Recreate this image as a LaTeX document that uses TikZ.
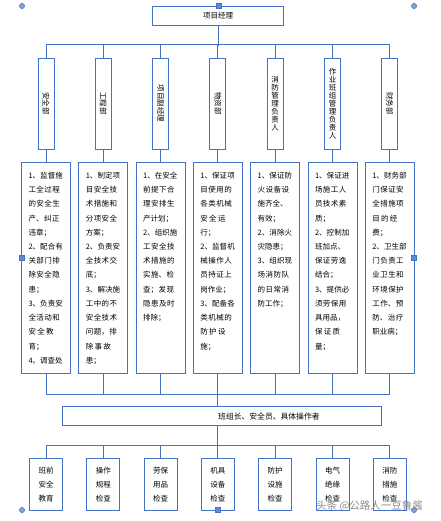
\documentclass[tikz,border=0pt]{standalone}
\usepackage{fontspec}
\setmainfont{Noto Sans CJK SC}
\XeTeXlinebreaklocale "zh"
\XeTeXlinebreakskip=0pt plus 2pt
\tolerance=10000
\hbadness=10000
\definecolor{lineblue}{RGB}{68,114,196}
\definecolor{gripblue}{RGB}{91,140,214}
\tikzset{
  link/.style={draw=lineblue, line width=0.9pt},
  headbox/.style={draw=lineblue, line width=0.9pt, minimum width=130.6pt, minimum height=19.3pt, inner sep=0pt, font=\fontsize{7.5}{9}\selectfont},
  deptbox/.style={draw=lineblue, line width=0.9pt, minimum width=16pt, minimum height=91pt, inner sep=0pt, font=\fontsize{7.5}{8}\selectfont},
  dutybox/.style={draw=lineblue, line width=0.9pt, anchor=north, text width=35pt, inner xsep=7pt, inner ysep=0pt, text height=15.4pt, text depth=195.1pt, font=\fontsize{7.5}{14.23}\selectfont},
  crewbox/.style={draw=lineblue, line width=0.9pt, minimum width=319.4pt, minimum height=18.3pt, inner sep=0pt},
  crewtext/.style={anchor=west, inner sep=0pt, font=\fontsize{7.8}{9}\selectfont},
  checkbox/.style={draw=lineblue, line width=0.9pt, minimum width=33pt, minimum height=51.7pt, inner sep=0pt, align=center, font=\fontsize{7.5}{14}\selectfont},
  grip/.style={fill=gripblue, draw=lineblue, line width=0.5pt},
  knob/.style={fill=gripblue!80, draw=lineblue, line width=0.5pt},
  wmtext/.style={anchor=west, inner sep=0pt, text=black!45, font=\fontsize{10.5}{12}\selectfont},
}

\begin{document}
\begin{tikzpicture}[x=1pt,y=-1pt]
\useasboundingbox (0,0) rectangle (440,521);

% head
\node[headbox] (pm) at (218,15.7) {项目经理};

% departments
\node[deptbox] (dA) at (46,103.7) {\rotatebox{-90}{安全部}};
\node[deptbox] (dB) at (103.3,103.7) {\rotatebox{-90}{工程部}};
\node[deptbox] (dC) at (160.6,103.7) {\rotatebox{-90}{项目副经理}};
\node[deptbox] (dD) at (217.9,103.7) {\rotatebox{-90}{物资部}};
\node[deptbox,align=center] (dE) at (275.2,103.7) {消\\防\\管\\理\\负\\责\\人};
\node[deptbox,align=center] (dF) at (332.5,103.7) {作\\业\\班\\组\\管\\理\\负\\责\\人};
\node[deptbox] (dG) at (389.8,103.7) {\rotatebox{-90}{财务部}};

% duties
\node[dutybox] (tA) at (46,162.5) {1、监督施\linebreak
工全过程\linebreak
的安全生\linebreak
产、纠正\linebreak
违章；\\
2、配合有\linebreak
关部门排\linebreak
除安全隐\linebreak
患；\\
3、负责安\linebreak
全活动和\linebreak
安全教\linebreak
育；\\
4、调查处};
\node[dutybox] (tB) at (103.3,162.5) {1、制定项\linebreak
目安全技\linebreak
术措施和\linebreak
分项安全\linebreak
方案；\\
2、负责安\linebreak
全技术交\linebreak
底；\\
3、解决施\linebreak
工中的不\linebreak
安全技术\linebreak
问题，排\linebreak
除事故\linebreak
患；};
\node[dutybox] (tC) at (160.6,162.5) {1、在安全\linebreak
前提下合\linebreak
理安排生\linebreak
产计划；\\
2、组织施\linebreak
工安全技\linebreak
术措施的\linebreak
实施、检\linebreak
查；发现\linebreak
隐患及时\linebreak
排除；};
\node[dutybox] (tD) at (217.9,162.5) {1、保证项\linebreak
目使用的\linebreak
各类机械\linebreak
安全运\linebreak
行；\\
2、监督机\linebreak
械操作人\linebreak
员持证上\linebreak
岗作业；\\
3、配备各\linebreak
类机械的\linebreak
防护设\linebreak
施；};
\node[dutybox] (tE) at (275.2,162.5) {1、保证防\linebreak
火设备设\linebreak
施齐全、\\
有效；\\
2、消除火\linebreak
灾隐患；\\
3、组织现\linebreak
场消防队\linebreak
的日常消\linebreak
防工作；};
\node[dutybox] (tF) at (332.5,162.5) {1、保证进\linebreak
场施工人\linebreak
员技术素\linebreak
质；\\
2、控制加\linebreak
班加点、\\
保证劳逸\linebreak
结合；\\
3、提供必\linebreak
须劳保用\linebreak
具用品，\\
保证质\linebreak
量；};
\node[dutybox] (tG) at (389.8,162.5) {1、财务部\linebreak
门保证安\linebreak
全措施项\linebreak
目的经\linebreak
费；\\
2、卫生部\linebreak
门负责工\linebreak
业卫生和\linebreak
环境保护\linebreak
工作、预\linebreak
防、治疗\linebreak
职业病；};

% crew
\node[crewbox] (crew) at (222,416) {};
\node[crewtext] (crewlabel) at (218,416.7) {班组长、安全员、具体操作者};

% checks
\node[checkbox] (cA) at (46,484.2) {班前\\安全\\教育};
\node[checkbox] (cB) at (103.3,484.2) {操作\\规程\\检查};
\node[checkbox] (cC) at (160.6,484.2) {劳保\\用品\\检查};
\node[checkbox] (cD) at (217.9,484.2) {机具\\设备\\检查};
\node[checkbox] (cE) at (275.2,484.2) {防护\\设施\\检查};
\node[checkbox] (cF) at (332.5,484.2) {电气\\绝缘\\检查};
\node[checkbox] (cG) at (389.8,484.2) {消防\\措施\\检查};

% connectors
\draw[link] (pm.south) -- ++(0,20);
\draw[link] (dA.north) -- ++(0,-13) -| (dG.north);
\draw[link] (dB.north) -- ++(0,-13);
\draw[link] (dC.north) -- ++(0,-13);
\draw[link] (dD.north) -- ++(0,-13);
\draw[link] (dE.north) -- ++(0,-13);
\draw[link] (dF.north) -- ++(0,-13);

\draw[link] (dA.south) -- (tA.north);
\draw[link] (dB.south) -- (tB.north);
\draw[link] (dC.south) -- (tC.north);
\draw[link] (dD.south) -- (tD.north);
\draw[link] (dE.south) -- (tE.north);
\draw[link] (dF.south) -- (tF.north);
\draw[link] (dG.south) -- (tG.north);

\draw[link] (tA.south) -- ++(0,20.3) -| (tG.south);
\draw[link] (tB.south) -- ++(0,20.3);
\draw[link] (tC.south) -- ++(0,20.3);
\draw[link] (tE.south) -- ++(0,20.3);
\draw[link] (tF.south) -- ++(0,20.3);
\draw[link] (tD.south) -- (crew.north -| tD.south);

\draw[link] (crew.south -| tD.south) -- ++(0,20.3);
\draw[link] (cA.north) -- ++(0,-12.8) -| (cG.north);
\draw[link] (cB.north) -- ++(0,-12.8);
\draw[link] (cC.north) -- ++(0,-12.8);
\draw[link] (cD.north) -- ++(0,-12.8);
\draw[link] (cE.north) -- ++(0,-12.8);
\draw[link] (cF.north) -- ++(0,-12.8);

% selection handles
\draw[knob] (22,6) circle (2.6);
\draw[knob] (414,6) circle (2.6);
\draw[knob] (22,510) circle (2.6);
\draw[knob] (414,510) circle (2.6);
\draw[grip] (216.5,3.5) rectangle ++(5,5);
\draw[grip] (19.5,255.5) rectangle ++(5,5);
\draw[grip] (411.5,255.5) rectangle ++(5,5);
\draw[grip] (215.4,507.5) rectangle ++(5,5);

% watermark
\node[wmtext] (wm) at (316,505.7) {头条 @公路人一豆鲁酱};
\end{tikzpicture}
\end{document}
